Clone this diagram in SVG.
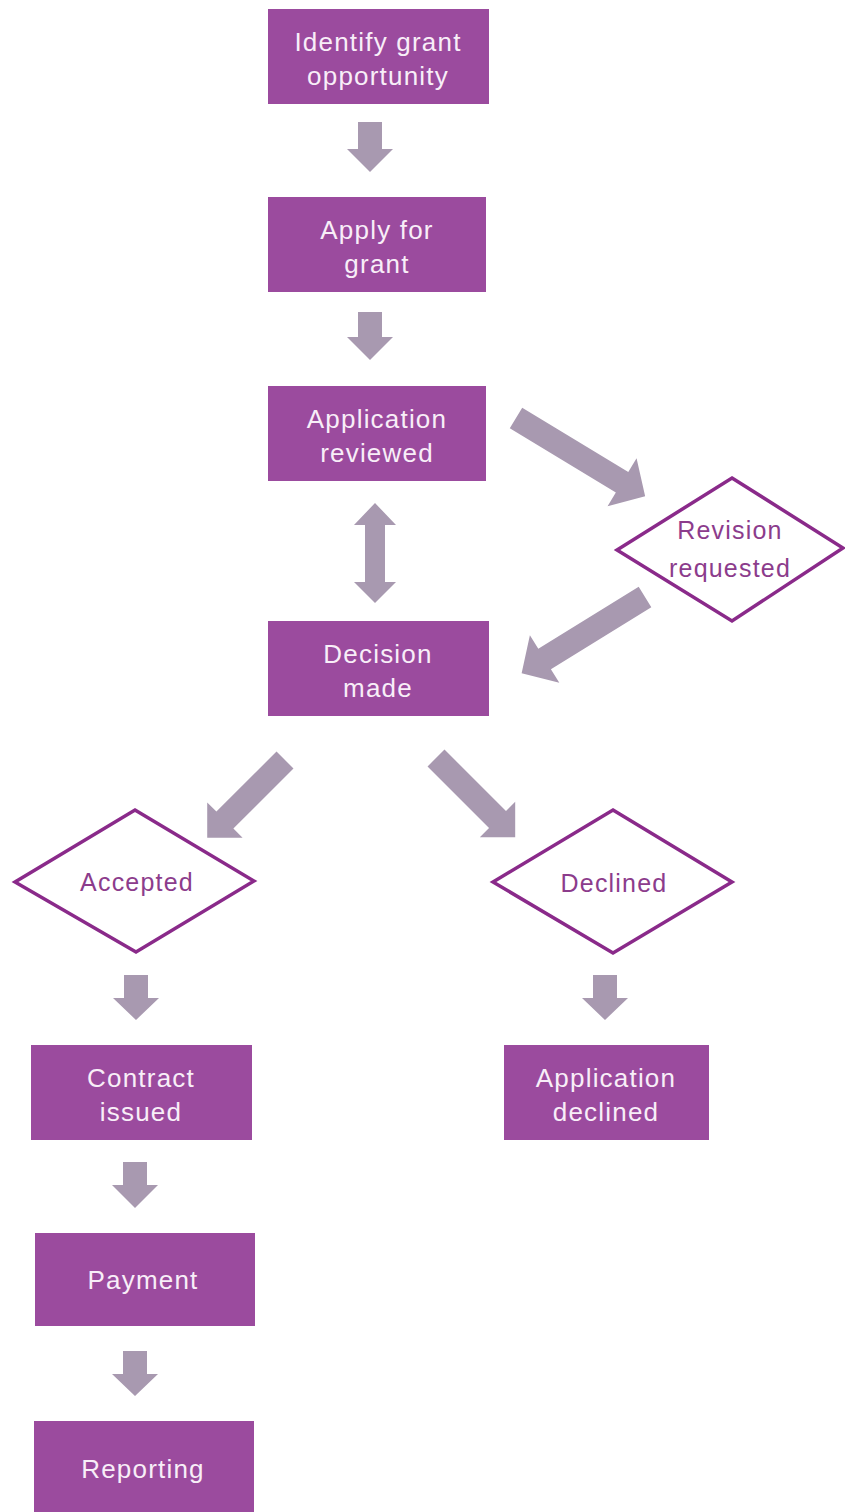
<svg xmlns="http://www.w3.org/2000/svg" width="845" height="1512" viewBox="0 0 845 1512">
<style>
.box{fill:#9b4b9e}
.bt{font-family:"Liberation Sans",Arial,sans-serif;font-size:26px;letter-spacing:1.2px;fill:#f8eef8;text-anchor:middle}
.dia{fill:#ffffff;stroke:#8a2a8a;stroke-width:3.5;stroke-linejoin:miter}
.dt{font-family:"Liberation Sans",Arial,sans-serif;font-size:25px;letter-spacing:1.2px;fill:#8c3c8c;text-anchor:middle}
.arr{fill:#a899b0}
</style>
<rect width="845" height="1512" fill="#ffffff"/>
<g id="connectors">
<path class="arr" d="M358,122 H382 V149 H393 L370,172 L347,149 H358 Z"/>
<path class="arr" d="M358,312 H382 V337 H393 L370,360 L347,337 H358 Z"/>
<path class="arr" d="M375,503 L396,525 H385 V582 H396 L375,603 L354,582 H365 V525 H354 Z"/>
<path class="arr" transform="translate(516,418) rotate(31.2)" d="M0,-12 H124 V-28 L151,0 L124,28 V12 H0 Z"/>
<path class="arr" transform="translate(645,597) rotate(148.3)" d="M0,-12 H118 V-28 L145,0 L118,28 V12 H0 Z"/>
<path class="arr" transform="translate(285,760) rotate(135)" d="M0,-12 H85 V-25 L110,0 L85,25 V12 H0 Z"/>
<path class="arr" transform="translate(436,758) rotate(45)" d="M0,-12 H87 V-25 L112,0 L87,25 V12 H0 Z"/>
<path class="arr" d="M124,975 H148 V998 H159 L136,1020 L113,998 H124 Z"/>
<path class="arr" d="M593,975 H617 V998 H628 L605,1020 L582,998 H593 Z"/>
<path class="arr" d="M123,1162 H147 V1185 H158 L135,1208 L112,1185 H123 Z"/>
<path class="arr" d="M123,1351 H147 V1374 H158 L135,1396 L112,1374 H123 Z"/>
</g>
<g id="identify">
<rect class="box" x="268" y="9" width="221" height="95"/>
<text class="bt" x="378" y="51">Identify grant</text>
<text class="bt" x="378" y="85">opportunity</text>
</g>
<g id="apply">
<rect class="box" x="268" y="197" width="218" height="95"/>
<text class="bt" x="377" y="239">Apply for</text>
<text class="bt" x="377" y="273">grant</text>
</g>
<g id="reviewed">
<rect class="box" x="268" y="386" width="218" height="95"/>
<text class="bt" x="377" y="428">Application</text>
<text class="bt" x="377" y="462">reviewed</text>
</g>
<g id="revision">
<polygon class="dia" points="732,478 843,548 732,621 617,550"/>
<text class="dt" x="730" y="539">Revision</text>
<text class="dt" x="730" y="577">requested</text>
</g>
<g id="decision">
<rect class="box" x="268" y="621" width="221" height="95"/>
<text class="bt" x="378" y="663">Decision</text>
<text class="bt" x="378" y="697">made</text>
</g>
<g id="accepted">
<polygon class="dia" points="135,810 254,881 136,952 15,882"/>
<text class="dt" x="137" y="891">Accepted</text>
</g>
<g id="declined">
<polygon class="dia" points="613,810 732,882 613,953 493,882"/>
<text class="dt" x="614" y="892">Declined</text>
</g>
<g id="contract">
<rect class="box" x="31" y="1045" width="221" height="95"/>
<text class="bt" x="141" y="1087">Contract</text>
<text class="bt" x="141" y="1121">issued</text>
</g>
<g id="appdeclined">
<rect class="box" x="504" y="1045" width="205" height="95"/>
<text class="bt" x="606" y="1087">Application</text>
<text class="bt" x="606" y="1121">declined</text>
</g>
<g id="payment">
<rect class="box" x="35" y="1233" width="220" height="93"/>
<text class="bt" x="143" y="1289">Payment</text>
</g>
<g id="reporting">
<rect class="box" x="34" y="1421" width="220" height="95"/>
<text class="bt" x="143" y="1478">Reporting</text>
</g>
</svg>
